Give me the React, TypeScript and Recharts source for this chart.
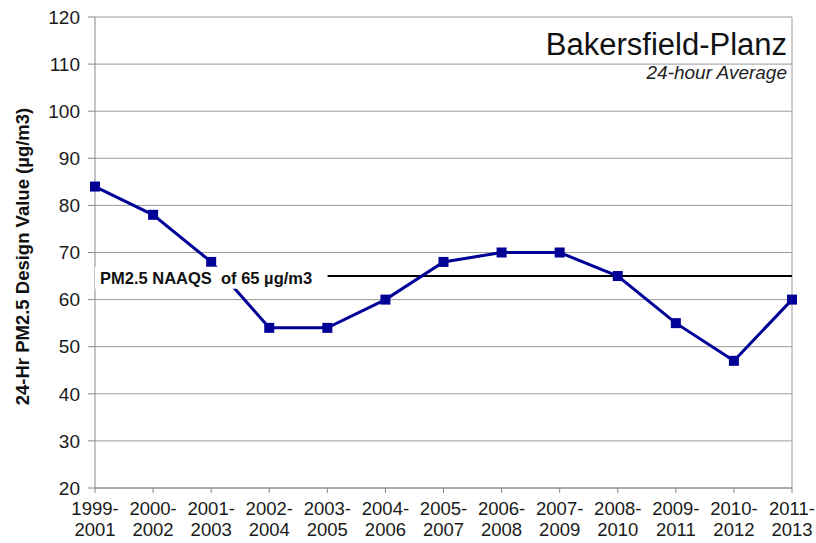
import React from 'react';
import {
  LineChart, Line, XAxis, YAxis, CartesianGrid, ReferenceLine, ReferenceArea, Customized,
} from 'recharts';

const periods = [
  '1999-2001', '2000-2002', '2001-2003', '2002-2004', '2003-2005', '2004-2006', '2005-2007',
  '2006-2008', '2007-2009', '2008-2010', '2009-2011', '2010-2012', '2011-2013',
];
const designValues = [84, 78, 68, 54, 54, 60, 68, 70, 70, 65, 55, 47, 60];
const yTicks = [20, 30, 40, 50, 60, 70, 80, 90, 100, 110, 120];
const yMinorTicks = [25, 35, 45, 55, 65, 75, 85, 95, 105, 115];
const naaqs = 65;
const title = 'Bakersfield-Planz';
const subtitle = '24-hour Average';
const yLabel = '24-Hr PM2.5 Design Value (µg/m3)';
const naaqsLabel = 'PM2.5 NAAQS\u00A0 of 65 µg/m3';

const data = periods.map((p, i) => ({ period: p, value: designValues[i] }));

const FONT = 'Arial, "Liberation Sans", Helvetica, sans-serif';
const NAVY = '#000096';

const XTick = (props: any) => {
  const { x, y, payload } = props;
  const [a, b] = String(payload.value).split('-');
  return (
    <g transform={`translate(${x},${y})`}>
      <text x={0} y={0} textAnchor="middle" fontFamily={FONT} fontSize={18.5} fill="#1a1a1a">
        <tspan x={0} dy={20}>{a + '-'}</tspan>
        <tspan x={0} dy={21}>{b}</tspan>
      </text>
    </g>
  );
};

const SquareDot = (props: any) => {
  const { cx, cy, index } = props;
  if (cx == null || cy == null) return null;
  return <rect key={`d${index}`} x={cx - 5} y={cy - 5} width={10} height={10} fill={NAVY} />;
};

const Titles = () => (
  <g>
    <text x={787} y={55} textAnchor="end" fontFamily={FONT} fontSize={31} fill="#111">{title}</text>
    <text x={787} y={79} textAnchor="end" fontFamily={FONT} fontSize={19} fontStyle="italic" fill="#222">{subtitle}</text>
  </g>
);

const YLabel = (props: any) => {
  const vb = props.viewBox || { x: 0, y: 17, width: 95, height: 471 };
  const cx = 22;
  const cy = vb.y + vb.height / 2 + 4;
  return (
    <text x={cx} y={cy} transform={`rotate(-90, ${cx}, ${cy})`} textAnchor="middle" dominantBaseline="central"
      fontFamily={FONT} fontSize={18.5} fontWeight="bold" fill="#111">{yLabel}</text>
  );
};

const NaaqsLabel = (props: any) => {
  const vb = props.viewBox || { x: 95, y: 266, width: 230, height: 22 };
  return (
    <text x={vb.x + 5} y={vb.y + vb.height / 2} dominantBaseline="central" fontFamily={FONT} fontSize={16.5}
      fontWeight="bold" fill="#111" style={{ whiteSpace: 'pre' }}>{naaqsLabel}</text>
  );
};

export default function App() {
  return (
    <div style={{ position: 'absolute', left: 0, top: 0 }}>
      <LineChart width={816} height={543} data={data} margin={{ top: 17, right: 24, bottom: 0, left: 0 }}>
        <CartesianGrid vertical={false} stroke="#9a9a9a" strokeWidth={1} yAxisId="main" />
        <XAxis dataKey="period" tick={<XTick />} tickSize={5} interval={0} height={55}
          axisLine={{ stroke: '#888' }} tickLine={{ stroke: '#888' }} />
        <YAxis yAxisId="main" domain={[20, 120]} ticks={yTicks} interval={0} width={95} tickSize={7} tickMargin={8}
          axisLine={{ stroke: '#888' }} tickLine={{ stroke: '#888' }}
          tick={{ fontFamily: FONT, fontSize: 19, fill: '#1a1a1a' }} label={<YLabel />} />
        <YAxis yAxisId="minor" domain={[20, 120]} ticks={yMinorTicks} interval={0} mirror orientation="left" width={0}
          tickSize={4} axisLine={false} tickLine={{ stroke: '#888' }} tick={() => <g />} />
        <ReferenceLine yAxisId="main" x={periods[periods.length - 1]} stroke="#9a9a9a" strokeWidth={1} />
        <ReferenceLine yAxisId="main" segment={[{ x: periods[4], y: naaqs }, { x: periods[periods.length - 1], y: naaqs }]}
          stroke="#000" strokeWidth={2} ifOverflow="visible" />
        <Line yAxisId="main" type="linear" dataKey="value" stroke={NAVY} strokeWidth={3} dot={<SquareDot />}
          activeDot={false} isAnimationActive={false} />
        <ReferenceArea yAxisId="main" x1={periods[0]} x2={periods[4]} y1={62.3} y2={67.0} fill="#fff" fillOpacity={1}
          stroke="none" ifOverflow="visible" zIndex={1000} label={<NaaqsLabel />} />
        <Customized component={Titles} />
      </LineChart>
    </div>
  );
}
